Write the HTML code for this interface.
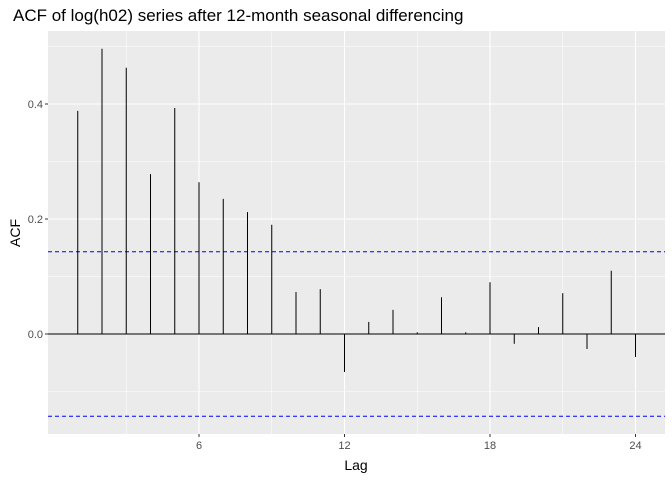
<!DOCTYPE html>
<html><head><meta charset="utf-8"><style>
body{margin:0;background:#fff;}
svg{display:block;font-family:"Liberation Sans",Arial,sans-serif;}
</style></head><body>
<svg id="chart" width="672" height="480">
<text x="13" y="21" font-size="17" fill="#000">ACF of log(h02) series after 12-month seasonal differencing</text>
<rect x="48" y="31" width="617" height="403" fill="#ebebeb"/>
<g id="grid"></g>
<g id="marks"></g>
<g id="axes"></g>
<text x="356" y="470" font-size="14" text-anchor="middle">Lag</text>
<text transform="translate(20,233) rotate(-90)" font-size="14" text-anchor="middle">ACF</text>
</svg>
<script>
const lags=[1,2,3,4,5,6,7,8,9,10,11,12,13,14,15,16,17,18,19,20,21,22,23,24];
const acf=[0.388,0.496,0.463,0.278,0.393,0.264,0.235,0.212,0.19,0.073,0.078,-0.066,0.021,0.042,0.003,0.064,0.003,0.09,-0.017,0.012,0.071,-0.026,0.11,-0.04];
const ci=0.143;
const xTicks=[6,12,18,24];
const yTicks=[-0.2,0,0.2,0.4];
const yLabels=["","0.0","0.2","0.4"];
const NS="http://www.w3.org/2000/svg";
const X=l=>199+(l-6)*24.25;
const Y=v=>334-v*575;
function mk(tag,attrs,parent){const e=document.createElementNS(NS,tag);for(const k in attrs)e.setAttribute(k,attrs[k]);document.getElementById(parent).appendChild(e);return e;}
const L=48,R=665,T=31,B=434;
[-0.1,0.1,0.3,0.5].forEach(v=>{const y=Y(v);if(y>T&&y<B){const g=mk('line',{x1:L,x2:R,y1:y,y2:y,stroke:'#fff','stroke-width':0.5},'grid');

}});
[3,9,15,21].forEach(t=>{const g=mk('line',{x1:X(t),x2:X(t),y1:T,y2:B,stroke:'#fff','stroke-width':0.5},'grid');

});
yTicks.forEach((v,i)=>{const y=Y(v);if(y<T||y>B||!yLabels[i])return;const g=mk('line',{x1:L,x2:R,y1:y,y2:y,stroke:'#fff','stroke-width':1.1},'grid');


mk('line',{x1:L-3,x2:L,y1:y,y2:y,stroke:'#333'},'axes');
const t=mk('text',{x:L-5,y:y+4,'font-size':11,'text-anchor':'end',fill:'#4d4d4d'},'axes');t.textContent=yLabels[i];

});
xTicks.forEach(v=>{const x=X(v);const g=mk('line',{x1:x,x2:x,y1:T,y2:B,stroke:'#fff','stroke-width':1.1},'grid');


mk('line',{x1:x,x2:x,y1:B,y2:B+3,stroke:'#333'},'axes');
const t=mk('text',{x:x,y:B+15,'font-size':11,'text-anchor':'middle',fill:'#4d4d4d'},'axes');t.textContent=v;

});
const z=mk('line',{x1:L,x2:R,y1:Y(0),y2:Y(0),stroke:'#000','stroke-width':1},'marks');


[ci,-ci].forEach(c=>{const d=mk('line',{x1:L,x2:R,y1:Y(c),y2:Y(c),stroke:'#0000ff','stroke-width':1,'stroke-dasharray':'4,3'},'marks');

});
lags.forEach((l,i)=>{const b=mk('line',{x1:X(l),x2:X(l),y1:Y(0),y2:Y(acf[i]),stroke:'#000','stroke-width':1},'marks');

});
</script>
</body></html>
